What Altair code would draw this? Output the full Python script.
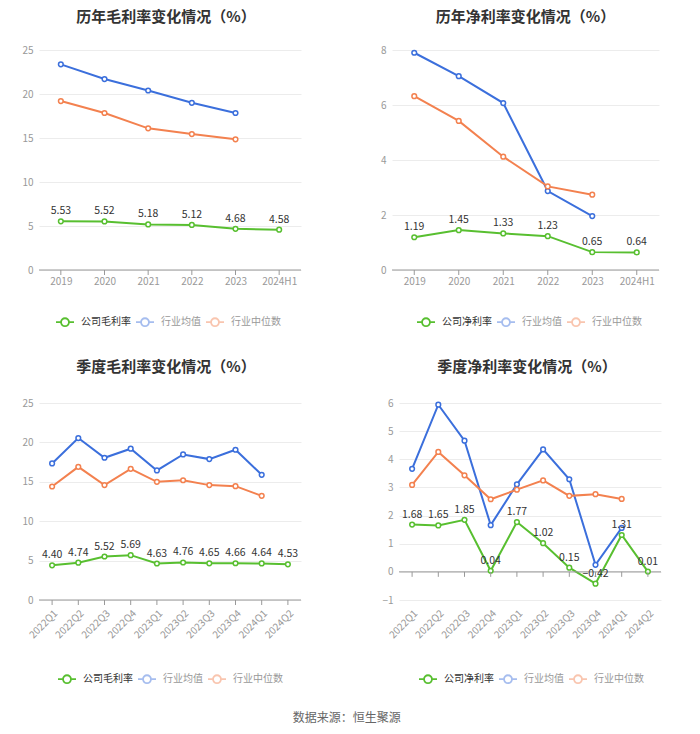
import altair as alt
import pandas as pd

FONT = "Noto Sans CJK SC"
GREEN = "#58bf30"
BLUE = "#3b6fdc"
ORANGE = "#f3814f"
AXIS = "#999999"

years = ["2019", "2020", "2021", "2022", "2023", "2024H1"]
annual_gross_company = [5.53, 5.52, 5.18, 5.12, 4.68, 4.58]
annual_gross_avg = [23.37, 21.70, 20.40, 19.00, 17.84, None]
annual_gross_med = [19.20, 17.84, 16.10, 15.45, 14.85, None]

annual_net_company = [1.19, 1.45, 1.33, 1.23, 0.65, 0.64]
annual_net_avg = [7.90, 7.05, 6.07, 2.87, 1.96, None]
annual_net_med = [6.32, 5.42, 4.12, 3.04, 2.74, None]

quarters = ["2022Q1", "2022Q2", "2022Q3", "2022Q4", "2023Q1",
            "2023Q2", "2023Q3", "2023Q4", "2024Q1", "2024Q2"]
q_gross_company = [4.40, 4.74, 5.52, 5.69, 4.63, 4.76, 4.65, 4.66, 4.64, 4.53]
q_gross_avg = [17.33, 20.55, 18.05, 19.20, 16.44, 18.47, 17.88, 19.07, 15.89, None]
q_gross_med = [14.40, 16.90, 14.58, 16.65, 15.00, 15.20, 14.58, 14.45, 13.22, None]

q_net_company = [1.68, 1.65, 1.85, 0.04, 1.77, 1.02, 0.15, -0.42, 1.31, 0.01]
q_net_avg = [3.66, 5.94, 4.66, 1.66, 3.11, 4.35, 3.29, 0.25, 1.56, None]
q_net_med = [3.09, 4.26, 3.43, 2.58, 2.92, 3.25, 2.70, 2.76, 2.59, None]

SERIES_AVG = "行业均值"
SERIES_MED = "行业中位数"

# legend symbol: short line with an open circle in the middle
R = 0.44
LEG_SYMBOL = (f"M-1,0H-{R}M{R},0H1M{R},0A{R},{R},0,1,1,-{R},0A{R},{R},0,1,1,{R},0Z")


def panel(title, periods, comp, avg, med, comp_name, yticks, width, height,
          rotate, legend_x, legend_y, title_offset, title_dx):
    rows = []
    for name, vals in [(comp_name, comp), (SERIES_AVG, avg), (SERIES_MED, med)]:
        for i, (p, v) in enumerate(zip(periods, vals)):
            if v is not None:
                rows.append({"period": p, "series": name, "value": v, "idx": i})
    df = pd.DataFrame(rows)
    ticks_df = pd.DataFrame({"period": periods, "value": [0] * len(periods)})

    x = alt.X("period:N", sort=periods,
              scale=alt.Scale(type="point", padding=0.5),
              axis=alt.Axis(title=None, domain=False, ticks=False, grid=False,
                            labelAngle=-45 if rotate else 0,
                            labelPadding=6 if not rotate else 8,
                            labelFontSize=10, labelColor=AXIS))
    y_scale = alt.Scale(domain=[yticks[0], yticks[-1]], nice=False, zero=False)
    y_axis = alt.Axis(title=None, values=yticks, domain=False, ticks=False,
                      grid=True, gridColor="#ececec", labelPadding=6,
                      labelFontSize=10, labelColor=AXIS,
                      minExtent=31, maxExtent=31)
    y = alt.Y("value:Q", scale=y_scale, axis=y_axis)
    legend = alt.Legend(title=None, orient="none", legendX=legend_x, legendY=legend_y,
                        direction="horizontal", symbolType=LEG_SYMBOL, symbolSize=324,
                        symbolStrokeWidth=1.8, symbolFillColor="white",
                        labelFontSize=10, labelFont=FONT, labelOffset=6,
                        columnPadding=1,
                        labelColor=alt.expr(f"datum.label == '{comp_name}' ? '#333333' : '#999999'"),
                        symbolOpacity=alt.expr(f"datum.label == '{comp_name}' ? 1 : 0.45"))
    color = alt.Color("series:N",
                      scale=alt.Scale(domain=[comp_name, SERIES_AVG, SERIES_MED],
                                      range=[GREEN, BLUE, ORANGE]),
                      legend=legend)

    base = alt.Chart(df)
    lines = base.mark_line(strokeWidth=2).encode(
        x=x, y=y, color=color, order=alt.Order("idx:Q"))
    zero_rule = alt.Chart(ticks_df).transform_filter("datum.period == '%s'" % periods[0]).mark_rule(
        color=AXIS, strokeWidth=1).encode(y=y)
    zero_ticks = alt.Chart(ticks_df).mark_point(
        shape="M0,0L0,1", size=100, filled=False, stroke=AXIS, strokeWidth=1,
        opacity=1).encode(x=x, y=y)
    points = base.mark_point(shape="circle", size=22, filled=False, fill="white",
                             strokeWidth=1.5, opacity=1).encode(
        x=x, y=y, color=color)
    labels = base.transform_filter(alt.datum.series == comp_name).mark_text(
        baseline="bottom", dy=-5, fontSize=10.5, color="#333333", font=FONT).encode(
        x=x, y=y, text=alt.Text("value:Q", format=".2f"))

    return alt.layer(lines, zero_rule, points, labels, zero_ticks).properties(
        width=width, height=height,
        title=alt.TitleParams(title, fontSize=15, fontWeight="bold", color="#333333",
                              font=FONT, anchor="middle", frame="group",
                              baseline="bottom", offset=title_offset, dx=title_dx))


p1 = panel("历年毛利率变化情况（%）", years, annual_gross_company, annual_gross_avg,
           annual_gross_med, "公司毛利率", [0, 5, 10, 15, 20, 25], 262, 220, False,
           16, 262, 5, -4)
p2 = panel("历年净利率变化情况（%）", years, annual_net_company, annual_net_avg,
           annual_net_med, "公司净利率", [0, 2, 4, 6, 8], 267, 220, False,
           24, 262, 5, 0)
p3 = panel("季度毛利率变化情况（%）", quarters, q_gross_company, q_gross_avg,
           q_gross_med, "公司毛利率", [0, 5, 10, 15, 20, 25], 262, 197, True,
           18, 266, 8, -4)
p4 = panel("季度净利率变化情况（%）", quarters, q_net_company, q_net_avg,
           q_net_med, "公司净利率", [-1, 0, 1, 2, 3, 4, 5, 6], 262, 197, True,
           19, 266, 8, -3)

row1 = alt.hconcat(p1, p2, spacing=59).resolve_scale(color="independent").resolve_legend(color="independent")
row2 = alt.hconcat(p3, p4, spacing=66).resolve_scale(color="independent").resolve_legend(color="independent")

chart = alt.vconcat(row1, row2, spacing=30).resolve_scale(
    color="independent").resolve_legend(color="independent").properties(
    padding={"left": 0, "top": 2, "right": 0, "bottom": 0},
    title=alt.TitleParams("数据来源：恒生聚源", orient="bottom", anchor="middle",
                          fontSize=12, fontWeight="normal", color="#666666",
                          font=FONT, offset=26, dx=12),
).configure(font=FONT).configure_view(stroke=None)

chart.save("out.html", embed_options={"renderer": "svg", "actions": False})
